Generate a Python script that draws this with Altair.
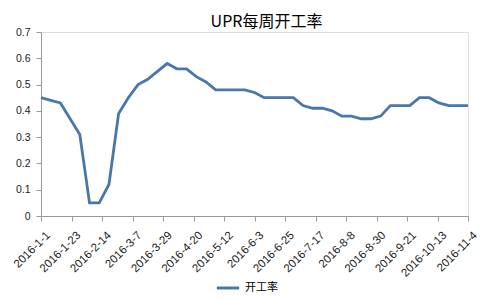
import altair as alt
import pandas as pd

# Weekly dates (every 7 days from 2016-01-01 to 2016-11-04)
dates = pd.date_range("2016-01-01", "2016-11-04", freq="7D").strftime("%Y-%m-%d").tolist()

# UPR weekly operating rate
rates = [0.45, 0.44, 0.43, 0.37, 0.31, 0.05, 0.05, 0.12, 0.39, 0.45,
         0.50, 0.52, 0.55, 0.58, 0.56, 0.56, 0.53, 0.51, 0.48, 0.48,
         0.48, 0.48, 0.47, 0.45, 0.45, 0.45, 0.45, 0.42, 0.41, 0.41,
         0.40, 0.38, 0.38, 0.37, 0.37, 0.38, 0.42, 0.42, 0.42, 0.45,
         0.45, 0.43, 0.42, 0.42, 0.42]

series_name = "开工率"
title_text = "UPR每周开工率"

# tick label dates (every 22 days)
tick_dates = [(2016, 1, 1), (2016, 1, 23), (2016, 2, 14), (2016, 3, 7), (2016, 3, 29),
              (2016, 4, 20), (2016, 5, 12), (2016, 6, 3), (2016, 6, 25), (2016, 7, 17),
              (2016, 8, 8), (2016, 8, 30), (2016, 9, 21), (2016, 10, 13), (2016, 11, 4)]
y_ticks = [0, 0.1, 0.2, 0.3, 0.4, 0.5, 0.6, 0.7]

df = pd.DataFrame({"date": dates, "rate": rates, "series": series_name})

font = "Noto Sans CJK SC"
label_font = "Liberation Sans"
line_color = "#4a76ad"
axis_color = "#999999"

tick_vals = [alt.DateTime(year=y, month=m, date=d, utc=True) for (y, m, d) in tick_dates]

chart = alt.Chart(df).mark_line(strokeWidth=2.8).encode(
    x=alt.X("date:T",
            scale=alt.Scale(type="utc", nice=False,
                            domain=[alt.DateTime(year=2016, month=1, date=1, utc=True),
                                    alt.DateTime(year=2016, month=11, date=4, utc=True)]),
            axis=alt.Axis(title=None, values=tick_vals, format="%Y-%-m-%-d",
                          labelAngle=-45, labelFontSize=11.5, labelColor="#222222",
                          labelFont=label_font, domainColor=axis_color, tickColor=axis_color,
                          tickSize=5, grid=False, labelPadding=8, labelOffset=3,
                          labelOverlap=False, labelFlush=False, labelBound=False)),
    y=alt.Y("rate:Q",
            scale=alt.Scale(domain=[0, 0.7], nice=False),
            axis=alt.Axis(title=None, values=y_ticks, format=".1~f",
                          labelFontSize=10.5, labelColor="#222222", labelFont=label_font,
                          domainColor=axis_color, tickColor=axis_color, tickSize=5,
                          grid=False, labelPadding=6, labelOverlap=False)),
    color=alt.Color("series:N",
                    scale=alt.Scale(range=[line_color]),
                    legend=alt.Legend(title=None, orient="none", legendX=174, legendY=243,
                                      symbolType="stroke", symbolStrokeWidth=3,
                                      symbolSize=500, labelFontSize=11, labelFont=font,
                                      labelColor="#000000")),
).properties(
    width=427,
    height=184,
    title=alt.TitleParams(title_text, font=font, fontSize=16, fontWeight="normal",
                          color="#000000", anchor="middle", dx=12, dy=3, offset=0),
    autosize=alt.AutoSizeParams(type="none"),
    padding={"left": 41, "top": 32, "right": 32, "bottom": 84},
).configure_view(stroke=None).configure(background="#ffffff")

chart.save("out.html", embed_options={"renderer": "svg", "actions": False})
